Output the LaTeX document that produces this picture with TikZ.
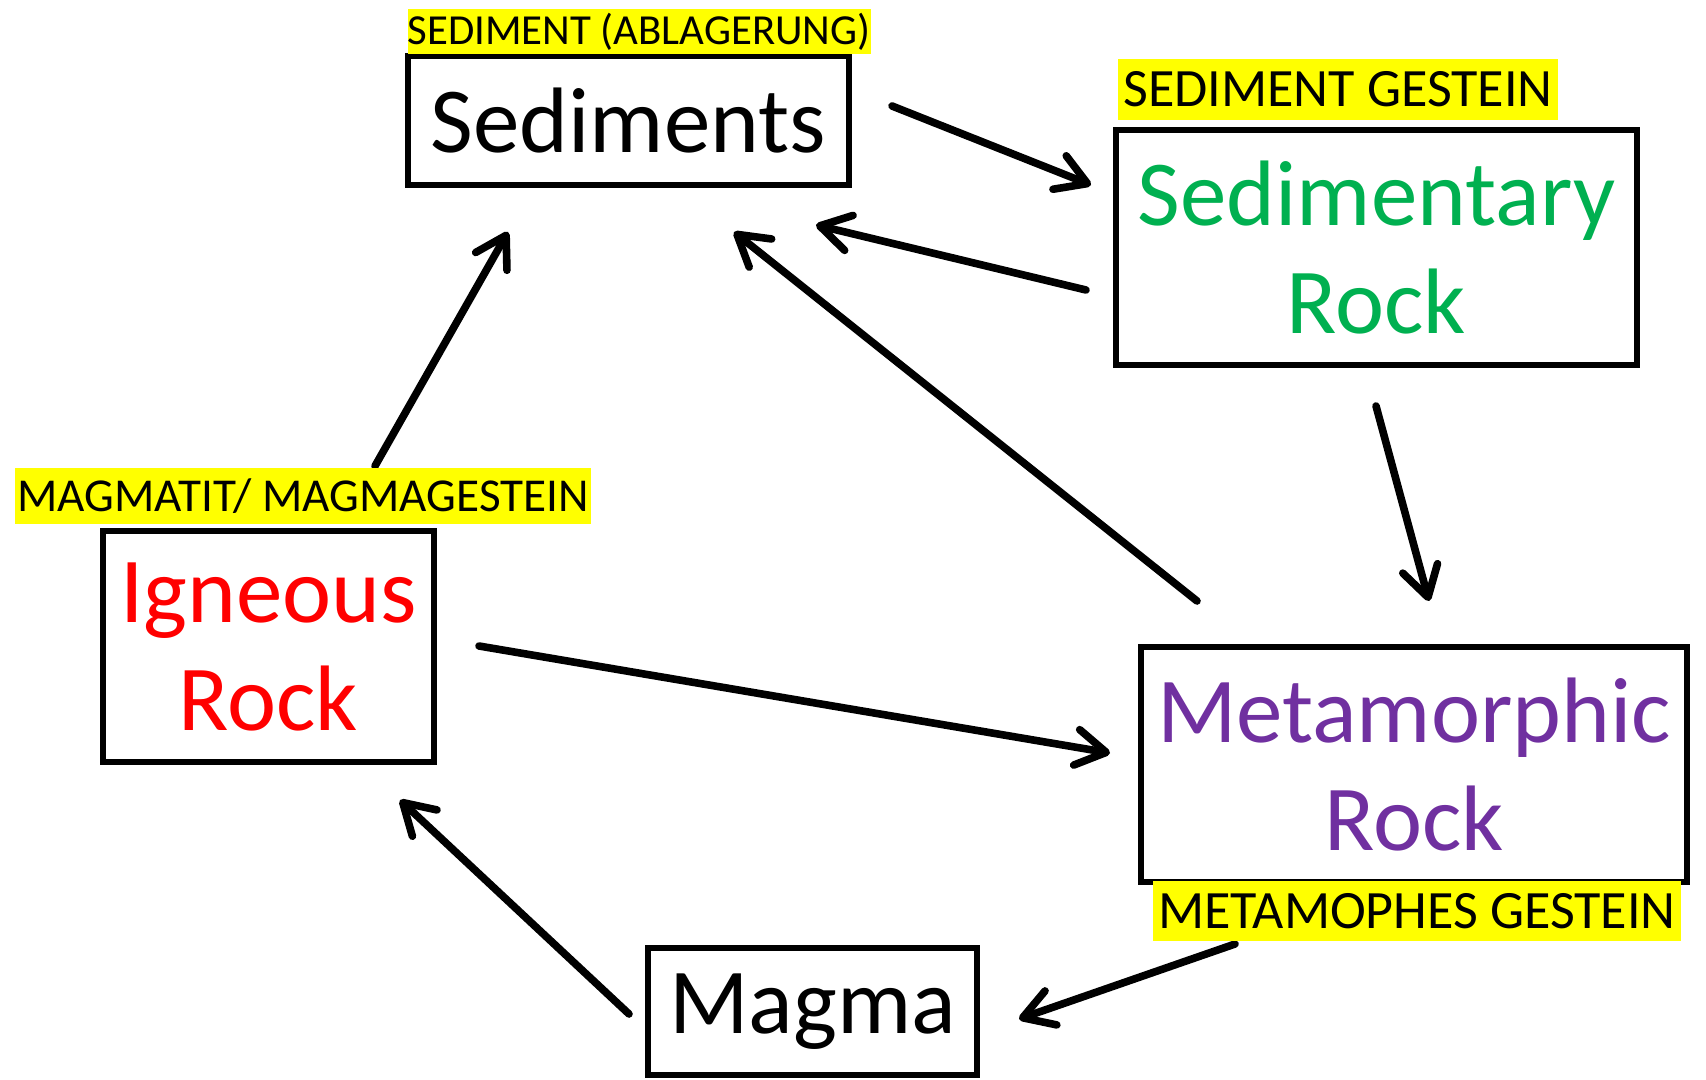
\documentclass[tikz,border=0pt]{standalone}
\usepackage{fontspec}
\setmainfont{Carlito}
\usetikzlibrary{arrows.meta, calc}
\definecolor{myred}{RGB}{255,0,0}
\definecolor{mygreen}{RGB}{0,176,80}
\definecolor{mypurple}{RGB}{112,48,160}
\definecolor{myyellow}{RGB}{255,255,0}
\tikzstyle{square} = [draw=black, line width=3.2pt, inner sep=0, outer sep=0,
    font=\fontsize{46.5}{54}\selectfont, align=center]
\tikzstyle{yellowtag} = [fill=myyellow, draw=none, inner sep=0, outer sep=0]
\tikzstyle{flow} = [line width=3.8pt, line cap=round,
    -{Straight Barb[length=15pt, width=18pt, line cap=round, line join=round]}]

\begin{document}
\begin{tikzpicture}[x=0.5pt, y=-0.5pt]
\useasboundingbox (0,0) rectangle (1706,1080);

% 1. Place the rock boxes
\node[square, minimum width=220.5pt, minimum height=64.5pt] (sed) at (628.5,120.5) {Sediments};
\node[square, text=mygreen, minimum width=260.5pt, minimum height=117.5pt] (sedrock) at (1376.5,247.5) {Sedimentary\\Rock};
\node[square, text=myred, minimum width=165.5pt, minimum height=115.5pt] (ign) at (268.5,646.5) {Igneous\\Rock};
\node[square, text=mypurple, minimum width=273pt, minimum height=117.5pt] (meta) at (1414,764.5) {Metamorphic\\Rock};
\node[square, minimum width=164.5pt, minimum height=63.5pt] (magma) at (812.5,1011.5) {Magma};

% 2. The cycle
\draw[flow] ([shift={(43,-14.5)}]sed.east) -- ([shift={(-25,-62.5)}]sedrock.west);
\draw[flow] ([shift={(-30,42.5)}]sedrock.west) -- ([shift={(-33,40)}]sed.south east);
\draw[flow] ([shift={(56,-46)}]meta.north west) -- ([shift={(105.5,47)}]sed.south);
\draw[flow] ([shift={(-0.5,41)}]sedrock.south) -- ([shift={(15,-46)}]meta.north);
\draw[flow] ([shift={(45,-0.5)}]ign.east) -- ([shift={(-31,-11.5)}]meta.west);
\draw[flow] ([shift={(106.5,-65)}]ign.north) -- ([shift={(-120.5,47)}]sed.south);
\draw[flow] ([shift={(94,62)}]meta.south west) -- ([shift={(42,7.5)}]magma.east);
\draw[flow] ([shift={(-19,2.5)}]magma.west) -- ([shift={(-34,38)}]ign.south east);

%%% GERMAN NAMES
% yellow highlighted labels over the boxes
\node[yellowtag, font=\fontsize{21.4}{25}\selectfont, minimum width=231pt, minimum height=22.5pt] (sedtag) at (639,31.5) {SEDIMENT (ABLAGERUNG)};
\node[yellowtag, font=\fontsize{27}{31}\selectfont, minimum width=220pt, minimum height=30.5pt] (sedrocktag) at (1338,89.5) {SEDIMENT GESTEIN};
\node[yellowtag, font=\fontsize{23.6}{28}\selectfont, minimum width=288pt, minimum height=28pt] (igntag) at (303,496) {MAGMATIT/ MAGMAGESTEIN};
\node[yellowtag, font=\fontsize{27}{31}\selectfont, minimum width=264pt, minimum height=30pt] (metatag) at (1417,911) {METAMOPHES GESTEIN};

\end{tikzpicture}
\end{document}
